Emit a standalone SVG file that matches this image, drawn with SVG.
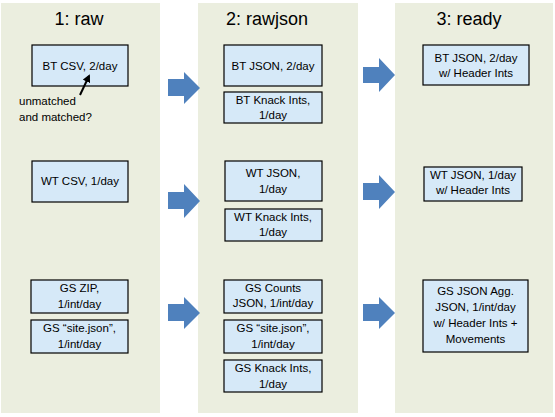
<svg xmlns="http://www.w3.org/2000/svg" width="555" height="417" viewBox="0 0 555 417">
<style>
.panel{fill:#EBEEDF;}
.title{font-family:"Liberation Sans",Arial,sans-serif;font-size:18px;fill:#000;text-anchor:middle;}
.box{fill:#D6E9F8;stroke:#000;stroke-width:1.2;}
.t{font-family:"Liberation Sans",Arial,sans-serif;font-size:11.5px;fill:#000;text-anchor:middle;}
.note{font-family:"Liberation Sans",Arial,sans-serif;font-size:11.5px;fill:#000;}
.big{fill:#4F81BD;}
</style>
<defs>
<marker id="ah" markerWidth="8" markerHeight="8" refX="6" refY="4" orient="auto" markerUnits="userSpaceOnUse">
<path d="M0,0 L8,4 L0,8 z" fill="#000"/>
</marker>
</defs>
<rect width="555" height="417" fill="#fff"/>
<g id="panels">
<rect class="panel" x="1" y="3" width="159" height="410"/>
<rect class="panel" x="198" y="3" width="160" height="410"/>
<rect class="panel" x="395" y="3" width="158" height="410"/>
<text class="title" x="79" y="25">1: raw</text>
<text class="title" x="267" y="25">2: rawjson</text>
<text class="title" x="469" y="25">3: ready</text>
</g>
<g id="n-bt-csv"><rect class="box" x="32" y="45" width="96" height="41"/><text class="t" x="80" y="70">BT CSV, 2/day</text></g>
<g id="n-bt-json"><rect class="box" x="224" y="45" width="98" height="41"/><text class="t" x="273" y="70">BT JSON, 2/day</text></g>
<g id="n-bt-knack"><rect class="box" x="224" y="92" width="98" height="31"/><text class="t" x="273" y="104">BT Knack Ints,</text><text class="t" x="273" y="119">1/day</text></g>
<g id="n-bt-ready"><rect class="box" x="423" y="45" width="106" height="40"/><text class="t" x="476" y="62">BT JSON, 2/day</text><text class="t" x="476" y="77">w/ Header Ints</text></g>
<g id="n-wt-csv"><rect class="box" x="32" y="161" width="96" height="41"/><text class="t" x="80" y="185">WT CSV, 1/day</text></g>
<g id="n-wt-json"><rect class="box" x="225" y="161" width="97" height="40"/><text class="t" x="273" y="177">WT JSON,</text><text class="t" x="273" y="193">1/day</text></g>
<g id="n-wt-knack"><rect class="box" x="225" y="209" width="97" height="32"/><text class="t" x="273" y="221">WT Knack Ints,</text><text class="t" x="273" y="236">1/day</text></g>
<g id="n-wt-ready"><rect class="box" x="424" y="167" width="98" height="34"/><text class="t" x="473" y="179">WT JSON, 1/day</text><text class="t" x="473" y="194">w/ Header Ints</text></g>
<g id="n-gs-zip"><rect class="box" x="31" y="280" width="97" height="33"/><text class="t" x="79.5" y="292">GS ZIP,</text><text class="t" x="79.5" y="308">1/int/day</text></g>
<g id="n-gs-site"><rect class="box" x="31" y="320" width="97" height="33"/><text class="t" x="79.5" y="332">GS “site.json”,</text><text class="t" x="79.5" y="348">1/int/day</text></g>
<g id="n-gs-counts"><rect class="box" x="224" y="280" width="98" height="33"/><text class="t" x="273" y="292">GS Counts</text><text class="t" x="273" y="307">JSON, 1/int/day</text></g>
<g id="n-gs-site2"><rect class="box" x="224" y="320" width="98" height="33"/><text class="t" x="273" y="332">GS “site.json”,</text><text class="t" x="273" y="348">1/int/day</text></g>
<g id="n-gs-knack"><rect class="box" x="224" y="360" width="98" height="32"/><text class="t" x="273" y="372">GS Knack Ints,</text><text class="t" x="273" y="388">1/day</text></g>
<g id="n-gs-ready"><rect class="box" x="423" y="280" width="105" height="72"/><text class="t" x="475.5" y="295">GS JSON Agg.</text><text class="t" x="475.5" y="311">JSON, 1/int/day</text><text class="t" x="475.5" y="327">w/ Header Ints +</text><text class="t" x="475.5" y="343">Movements</text></g>
<g id="n-note"><text class="note" x="19" y="105">unmatched</text><text class="note" x="19" y="121">and matched?</text></g>
<g id="connectors">
<line x1="80" y1="95" x2="89" y2="76" stroke="#000" stroke-width="2" marker-end="url(#ah)"/>
<path class="big" d="M168,79 H184 V72 L200,88 L184,104 V96 H168 Z"/>
<path class="big" d="M363,67 H379 V58 L395,75 L379,92 V83 H363 Z"/>
<path class="big" d="M168,192 H184 V184 L200,201 L184,218 V209 H168 Z"/>
<path class="big" d="M363,183 H379 V175 L395,192 L379,209 V200 H363 Z"/>
<path class="big" d="M168,304 H184 V297 L200,313 L184,329 V321 H168 Z"/>
<path class="big" d="M363,304 H379 V297 L395,313 L379,329 V321 H363 Z"/>
</g>
</svg>
